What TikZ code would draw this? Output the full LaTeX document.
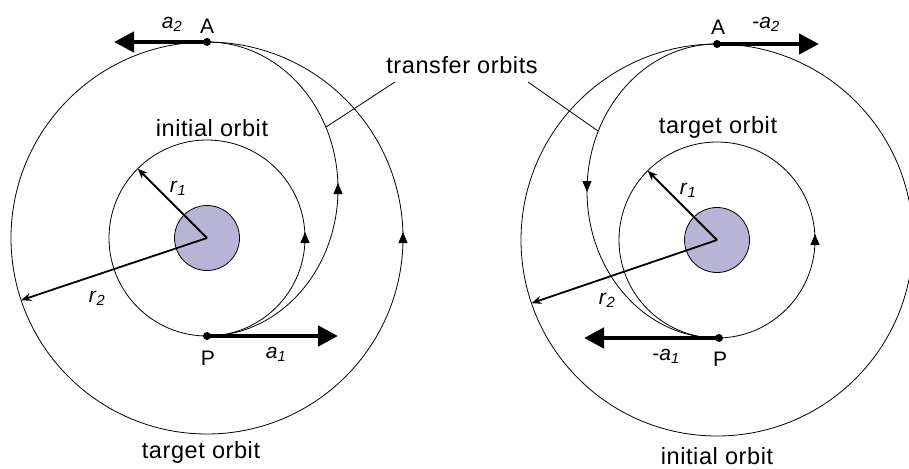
\documentclass[tikz,border=0pt]{standalone}
\usepackage{fontspec}
\setmainfont{Liberation Sans}
\usetikzlibrary{arrows.meta}
\definecolor{planet}{RGB}{184,180,214}
\newcommand\vsub[2]{\textit{#1}\textsubscript{\textit{#2}}}
\begin{document}
\begin{tikzpicture}[x=1pt,y=1pt,
  orbit/.style={line width=0.8pt},
  big/.style={font=\fontsize{23.5}{25}\selectfont\addfontfeature{LetterSpace=2.5}},
  pt/.style={font=\fontsize{21}{22}\selectfont},
  vlab/.style={font=\fontsize{21}{22}\selectfont},
  thrust/.style={line width=4.5pt,-{Triangle[length=20pt,width=20pt]}},
  radius arrow/.style={line width=1.8pt,-{Stealth[length=10pt,width=8pt]}},
  dir/.style={line width=0.8pt,-{Triangle[length=11pt,width=9pt]}},
  dot/.style={circle,fill,inner sep=0pt,minimum size=8pt},
  lead/.style={line width=0.8pt}]
\useasboundingbox (0,0) rectangle (909,-468);
\clip (0,0) rectangle (909,-468);
% ---------------- left diagram ----------------
\coordinate (O1) at (207,-238);
\draw[line width=0.8pt, fill=planet] (O1) circle[radius=32.5];
\draw[orbit] (O1) circle[radius=98];
\draw[orbit] (O1) circle[radius=196];
\node[dot] (A1) at (207,-42) {};
\node[dot] (P1) at (207,-336) {};
\draw[orbit] (A1.center) arc[start angle=90, end angle=-90, x radius=131, y radius=147];
\draw[dir] (305,-240) -- (305,-232);
\draw[dir] (403,-240) -- (403,-232);
\draw[dir] (338,-191) -- (338,-183);
\coordinate (r1a) at ([shift={(135:98)}]O1);
\coordinate (r2a) at ([shift={(198.5:196)}]O1);
\draw[radius arrow] (O1) -- (r1a);
\draw[radius arrow] (O1) -- (r2a);
\coordinate (a2tip) at (114,-42);
\coordinate (a1tip) at (338,-336);
\draw[thrust] (A1.center) -- (a2tip);
\draw[thrust] (P1.center) -- (a1tip);
\node[pt] (lA1) at (207,-26) {A};
\node[pt] (lP1) at (208,-358) {P};
\node[vlab] (la2) at (172,-24) {\vsub{a}{2}};
\node[vlab] (la1) at (276,-354) {\vsub{a}{1}};
\node[vlab] (lr1) at (178,-188) {\vsub{r}{1}};
\node[vlab] (lr2) at (97,-298) {\vsub{r}{2}};
\node[big] (init1) at (212,-128) {initial orbit};
\node[big] (targ1) at (201,-452) {target orbit};
% ---------------- right diagram ----------------
\coordinate (O2) at (717,-240);
\draw[line width=0.8pt, fill=planet] (O2) circle[radius=32.5];
\draw[orbit] (O2) circle[radius=98];
\draw[orbit] (O2) circle[radius=196];
\node[dot] (A2) at (717,-44) {};
\node[dot] (P2) at (719,-338) {};
\draw[orbit] (A2.center) arc[start angle=90, end angle=270, x radius=130, y radius=147];
\draw[dir] (815,-242) -- (815,-234);
\draw[dir] (587,-184) -- (587,-192);
\coordinate (r1b) at ([shift={(135:98)}]O2);
\coordinate (r2b) at ([shift={(198.8:196)}]O2);
\draw[radius arrow] (O2) -- (r1b);
\draw[radius arrow] (O2) -- (r2b);
\coordinate (ma2tip) at (819,-44);
\coordinate (ma1tip) at (584,-338);
\draw[thrust] (A2.center) -- (ma2tip);
\draw[thrust] (P2.center) -- (ma1tip);
\node[pt] (lA2) at (718,-27) {A};
\node[pt] (lP2) at (720,-359) {P};
\node[vlab] (lma2) at (766,-24) {-\vsub{a}{2}};
\node[vlab] (lma1) at (666,-356) {-\vsub{a}{1}};
\node[vlab] (lr1b) at (688,-190) {\vsub{r}{1}};
\node[vlab] (lr2b) at (607,-300) {\vsub{r}{2}};
\node[big] (targ2) at (718,-127) {target orbit};
\node[big] (init2) at (717,-456) {initial orbit};
% ---------------- shared label ----------------
\node[big] (trans) at (462,-65) {transfer orbits};
\coordinate (t1) at (326,-127);
\coordinate (t2) at (598,-131);
\draw[lead] ([shift={(-67,-17)}]trans.center) -- (t1);
\draw[lead] ([shift={(66,-17)}]trans.center) -- (t2);
\end{tikzpicture}
\end{document}
